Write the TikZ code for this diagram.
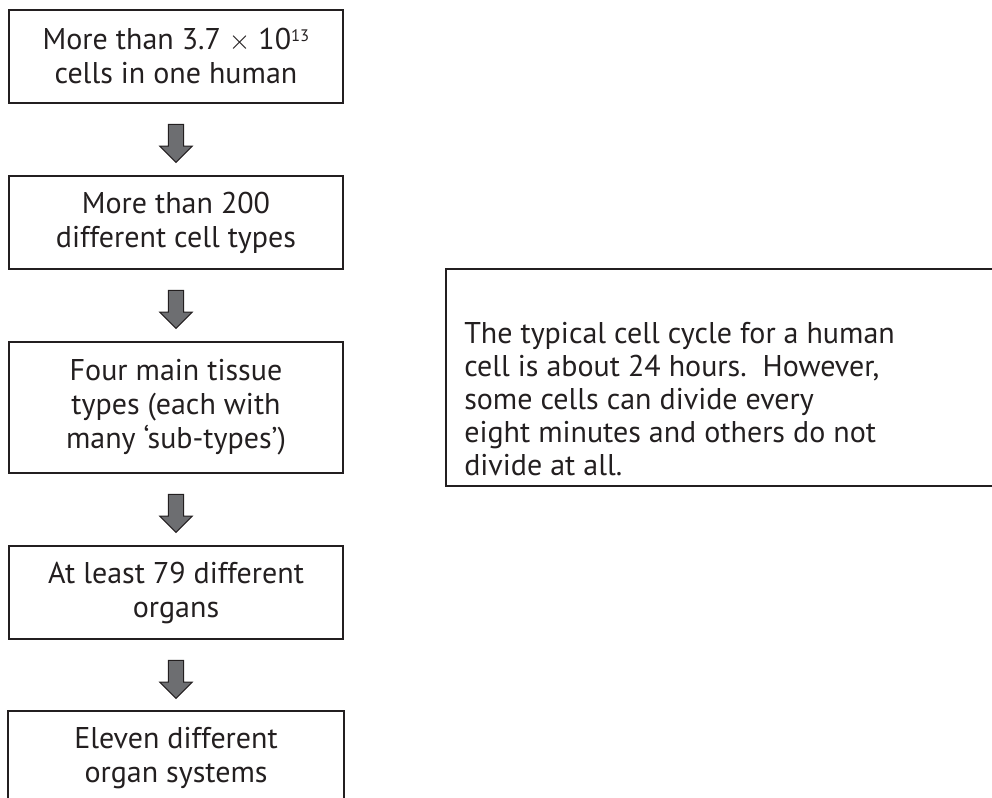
\documentclass[tikz,border=0pt]{standalone}
\usepackage{fontspec}
\setmainfont{PT Sans}
\usetikzlibrary{shapes.arrows}
\definecolor{inkline}{HTML}{231F20}
\definecolor{arrowgrey}{HTML}{6D6E71}
\tikzset{
	stage/.style={draw=inkline, line width=1.3pt, text=inkline, minimum width=250.5pt, minimum height=69.75pt, align=center, inner sep=0pt, font=\fontsize{22.5}{25.5}\selectfont},
	openstage/.style={stage, draw=none},
	flowarrow/.style={single arrow, draw=inkline, fill=arrowgrey, line width=0.8pt, rotate=-90, minimum height=28.5pt, single arrow head extend=6.4pt, single arrow tip angle=90, inner xsep=0pt, inner ysep=5.3pt}
}
\begin{document}
\begin{tikzpicture}[x=0.75pt, y=-0.75pt]
\useasboundingbox (0,0) rectangle (992,798);
\coordinate (pagefoot) at (0,798);

%chain of levels
\node[stage] (cells) at (176,56.5) {More than 3.7 $\times$ 10\raisebox{6.4pt}{\fontsize{12.5}{12.5}\selectfont 13}\\cells in one human};
\node[stage] (types) at (176,222.5) {More than 200\\different cell types};
\node[stage, minimum height=98.25pt] (tissues) at (176,407.5) {Four main tissue\\types (each with\\many ‘sub-types’)};
\node[stage] (organs) at (176,592.5) {At least 79 different\\organs};
\node[openstage] (systems) at (176,758.5) {Eleven different\\organ systems};
\draw[line width=1.3pt, inkline] (systems.west |- pagefoot) -- (systems.north west) -- (systems.north east) -- (systems.east |- pagefoot);

\path (cells) -- node[flowarrow] (a1) {} (types);
\path (types) -- node[flowarrow] (a2) {} (tissues);
\path (tissues) -- node[flowarrow] (a3) {} (organs);
\path (organs) -- node[flowarrow] (a4) {} (systems);

%side note
\draw[line width=1.3pt, inkline] (992,269) -- (446,269) -- (446,486) -- (992,486);
\node[anchor=north west, align=left, inner sep=0pt, text=inkline, font=\fontsize{22.5}{24.75}\selectfont] (cycle) at (464,322) {The typical cell cycle for a human\\cell is about 24 hours.\ \ However,\\some cells can divide every\\eight minutes and others do not\\divide at all.};
\end{tikzpicture}
\end{document}
